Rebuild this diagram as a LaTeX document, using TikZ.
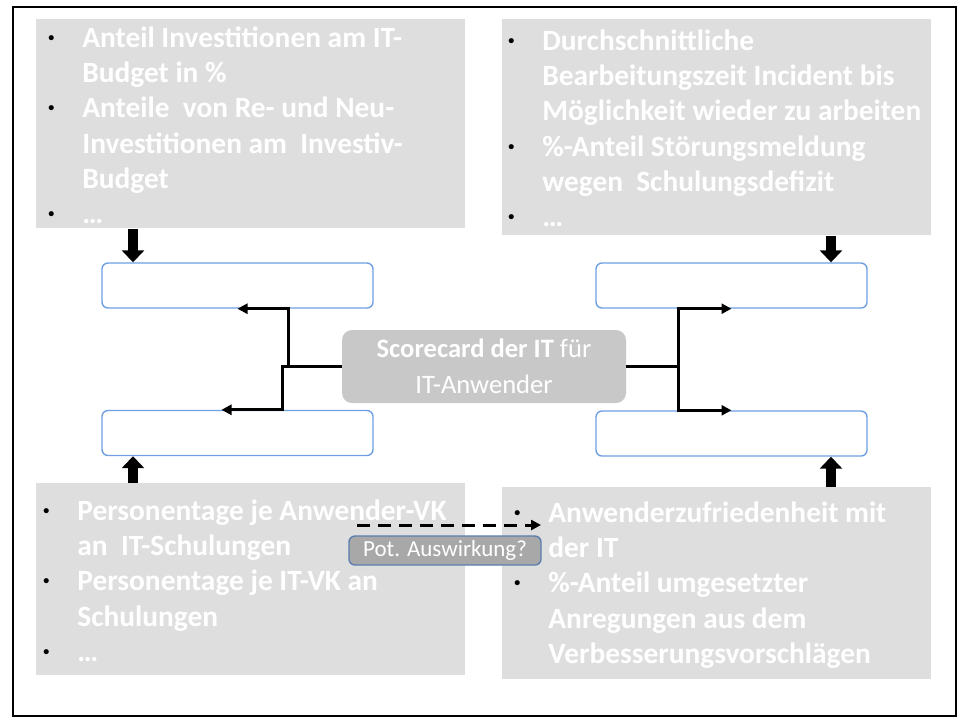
\documentclass[tikz,border=0pt]{standalone}
\usepackage{fontspec}
\setmainfont{Carlito}
\usetikzlibrary{arrows.meta}
\definecolor{boxgrey}{HTML}{DEDEDE}
\definecolor{cardgrey}{HTML}{C8C8C8}
\definecolor{frameblue}{HTML}{6E9FE3}
\definecolor{labelgrey}{HTML}{A8A8A8}
\definecolor{labelblue}{HTML}{5B7DB0}
\newcommand{\blt}{\strut\llap{\textcolor{black}{\raisebox{3pt}{\fontsize{6pt}{6pt}\selectfont\textbullet}}\hspace{14pt}}}
\tikzset{
	greybox/.style={fill=boxgrey, inner sep=0pt, anchor=north west},
	listtext/.style={text=white, align=left, inner sep=0pt, anchor=north west, font=\fontsize{14.7pt}{17.6pt}\selectfont\bfseries},
	bluebox/.style={draw=frameblue, line width=0.7pt, rounded corners=3pt, minimum width=135.5pt, minimum height=22.5pt, inner sep=0pt},
	scbox/.style={fill=cardgrey, rounded corners=5pt, text=white, align=center, minimum width=142pt, minimum height=36.5pt, inner sep=0pt, font=\fontsize{13.3pt}{17.8pt}\selectfont},
	fat/.style={line width=4.8pt, -{Triangle[width=11pt,length=6pt]}},
	conn/.style={line width=1.5pt, -{Triangle[width=5pt,length=5pt]}},
}

\begin{document}
\begin{tikzpicture}[x=0.5pt,y=-0.5pt]
			%%%%% START %%%%%
			\useasboundingbox (0,0) rectangle (963,720);
			\draw[line width=1pt] (13,7) rectangle (956,716);
			
			% grey boxes with the key figures
			\node[greybox, minimum width=214.5pt, minimum height=104.5pt] (gtl) at (36,19) {};
			\node[greybox, minimum width=214.5pt, minimum height=108pt] (gtr) at (502,19) {};
			\node[greybox, minimum width=214.5pt, minimum height=96pt] (gbl) at (36,483) {};
			\node[greybox, minimum width=214.5pt, minimum height=96pt] (gbr) at (502,487) {};
			
			\node[listtext] (ttl) at (82,22.4) {\blt Anteil Investitionen am IT-\\Budget in \%\\\blt Anteile~ von Re- und Neu-\\Investitionen am~ Investiv-\\Budget\\\blt\ldots};
			\node[listtext] (ttr) at (542,25.4) {\blt Durchschnittliche\\Bearbeitungszeit Incident bis\\Möglichkeit wieder zu arbeiten\\\blt \%-Anteil Störungsmeldung\\wegen~ Schulungsdefizit\\\blt\ldots};
			\node[listtext] (tbl) at (77,495.4) {\blt Personentage je Anwender-VK\\an~ IT-Schulungen\\\blt Personentage je IT-VK an\\Schulungen\\\blt\ldots};
			\node[listtext] (tbr) at (548,497.4) {\blt Anwenderzufriedenheit mit\\der IT\\\blt \%-Anteil umgesetzter\\Anregungen aus dem\\Verbesserungsvorschlägen};
			
			% empty blue boxes
			\node[bluebox] (btl) at (237.5,285.5) {};
			\node[bluebox] (bbl) at (237.5,433) {};
			\node[bluebox] (btr) at (731.5,285.5) {};
			\node[bluebox] (bbr) at (731.5,433.5) {};
			
			\node[scbox] (sc) at (484,366.5) {\textbf{Scorecard der IT} für\\IT-Anwender};
			
			% block arrows
			\coordinate (xl) at (133,0);
			\coordinate (xr) at (831,0);
			\draw[fat] (xl |- gtl.south) -- (xl |- btl.north);
			\draw[fat] (xr |- gtr.south) -- (xr |- btr.north);
			\draw[fat] (xl |- gbl.north) -- (xl |- bbl.south);
			\draw[fat] (xr |- gbr.north) -- (xr |- bbr.south);
			
			% branches from the scorecard
			\draw[conn] (sc.west) -- ++(-53,0) |- (btl.south);
			\draw[conn] (sc.west) -- ++(-59,0) |- ([xshift=-8pt]bbl.north);
			\draw[conn] (sc.east) -- ++(52,0) |- (btr.south);
			\draw[conn] (sc.east) -- ++(52,0) |- (bbr.north);
			
			% possible effect
			\coordinate (ds) at (357,525);
			\coordinate (de) at (541,525);
			\draw[conn, dash pattern=on 6.5pt off 4pt] (ds) -- (de);
			\node[fill=labelgrey, draw=labelblue, line width=0.7pt, rounded corners=3pt, text=white, minimum width=96pt, minimum height=14.5pt, inner sep=0pt, font=\fontsize{11.5pt}{13pt}\selectfont] (pot) at (445,550.5) {Pot. Auswirkung?};
			%%%%% END %%%%%
\end{tikzpicture}
\end{document}
